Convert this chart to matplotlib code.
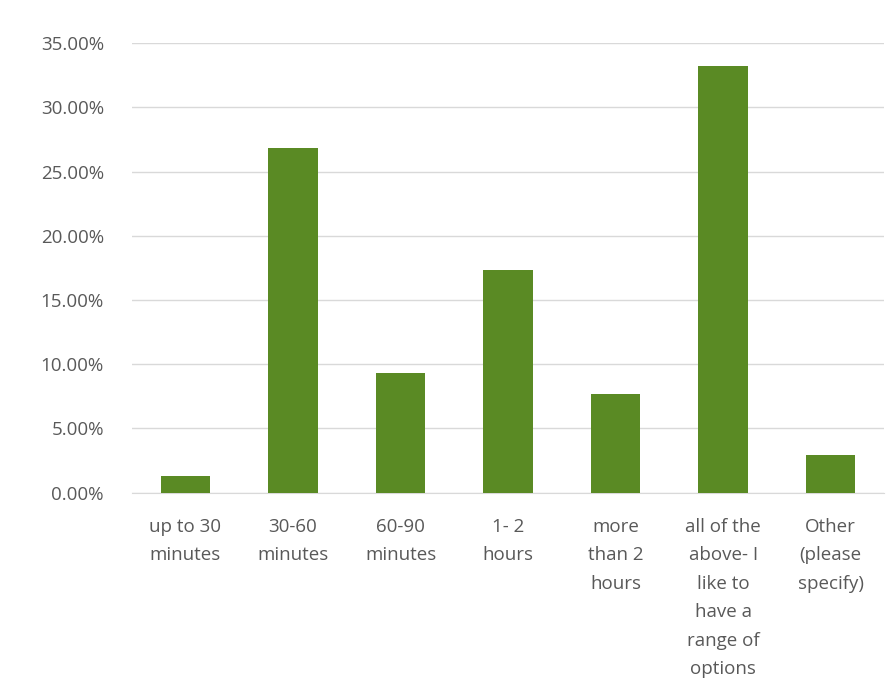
import numpy as np
import matplotlib.pyplot as plt
from matplotlib.ticker import FuncFormatter

categories = ["up to 30\nminutes", "30-60\nminutes", "60-90\nminutes", "1- 2\nhours",
              "more\nthan 2\nhours", "all of the\nabove- I\nlike to\nhave a\nrange of\noptions",
              "Other\n(please\nspecify)"]
values = [1.27, 26.80, 9.30, 17.30, 7.70, 33.20, 2.90]  # percent

plt.rcParams['font.family'] = ['Open Sans', 'DejaVu Sans']

fig = plt.figure(figsize=(8.96, 6.86), dpi=100)
ax = fig.add_axes([0.147, 0.282, 0.84, 0.655])

x = np.arange(len(categories))
ax.bar(x, values, width=0.46, color="#5a8a24", zorder=3)

ax.set_xlim(-0.5, len(categories) - 0.5)
ax.set_ylim(0, 35)
ax.set_yticks(np.arange(0, 36, 5))
ax.yaxis.set_major_formatter(FuncFormatter(lambda v, p: f"{v:.2f}%"))
ax.grid(axis='y', color="#d9d9d9", linewidth=1, zorder=0)

ax.set_xticks(x)
ax.set_xticklabels(categories, linespacing=1.75)
ax.tick_params(axis='both', length=0, labelsize=13.5, colors="#595959")
ax.tick_params(axis='x', pad=18)
ax.tick_params(axis='y', pad=20)

for s in ['top', 'right', 'left']:
    ax.spines[s].set_visible(False)
ax.spines['bottom'].set_color("#d9d9d9")

fig.savefig("out.png", dpi=100)
